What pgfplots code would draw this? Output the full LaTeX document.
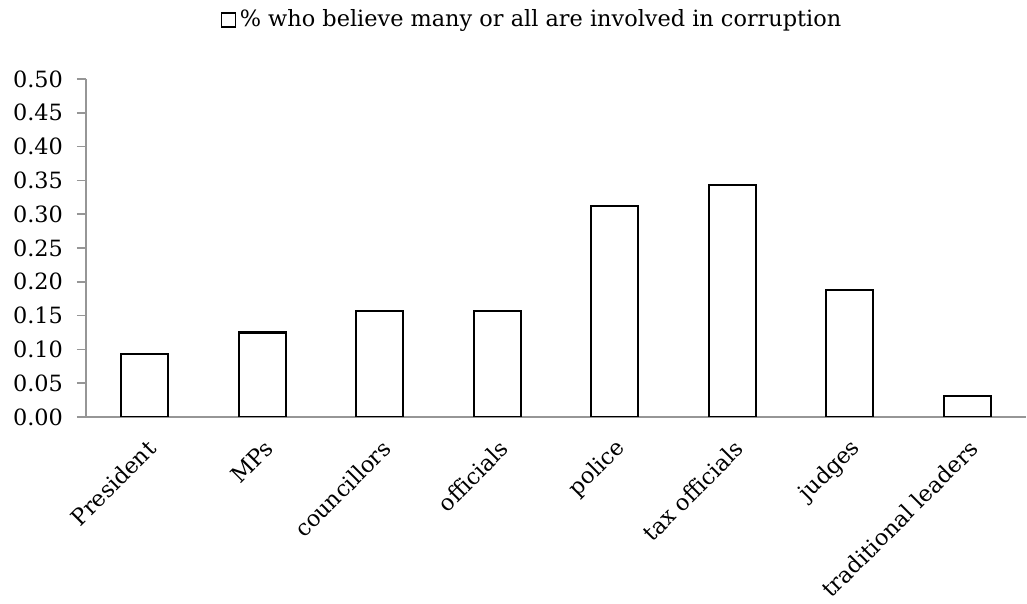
\documentclass[border=0pt]{standalone}
\usepackage{pgfplots}
\pgfplotsset{compat=1.18}
\usepackage{fontspec}
\setmainfont{DejaVu Serif}
\definecolor{axgray}{RGB}{150,150,150}
\begin{document}
\begin{tikzpicture}
\useasboundingbox (-43pt,-93.5pt) rectangle (470.5pt,208.5pt);
\begin{axis}[
  at={(0,0)}, anchor=south west,
  scale only axis,
  width=470pt, height=169pt,
  font=\fontsize{11.2}{13}\selectfont,
  ybar, bar width=23.5pt,
  xmin=-0.5, xmax=7.5,
  ymin=0, ymax=0.5,
  ytick={0,0.05,...,0.51},
  yticklabel style={/pgf/number format/.cd, fixed, fixed zerofill, precision=2, /tikz/.cd, xshift=-3.5pt},
  /pgf/number format/assume math mode=true,
  axis x line*=bottom, axis y line*=left,
  axis line style={axgray, line width=0.8pt},
  every tick/.style={axgray, line width=0.8pt},
  tick align=outside,
  major tick length=4.5pt,
  xtick={0,...,7},
  xticklabels={President,MPs,councillors,officials,police,tax officials,judges,traditional leaders},
  x tick label style={rotate=45, anchor=east, inner sep=1pt, yshift=-9pt, xshift=-3pt},
  minor xtick={-0.5,0.5,...,7.5},
  xtick style={draw=none},
  minor x tick style={axgray, line width=0.8pt},
  minor tick length=4.5pt,
  legend style={at={(0.4755,1.1746)}, anchor=center, draw=none, fill=none, font=\fontsize{11.2}{13}\selectfont},
  legend image code/.code={\draw[black, line width=0.6pt, fill=white] (0pt,-3.5pt) rectangle (7pt,3.5pt);},
]
\addplot[draw=black, fill=white, line width=1.1pt] coordinates {
(0,0.09375) (1,0.125) (2,0.15625) (3,0.15625) (4,0.3125) (5,0.34375) (6,0.1875) (7,0.03125)};
\addlegendentry{\% who believe many or all are involved in corruption}
\end{axis}
\end{tikzpicture}
\end{document}
